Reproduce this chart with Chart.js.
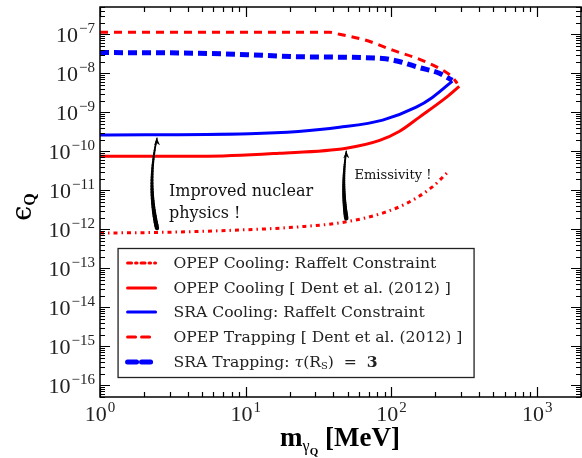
<!DOCTYPE html>
<html>
<head>
<meta charset="utf-8">
<script src="https://cdn.jsdelivr.net/npm/chart.js@4.4.0/dist/chart.umd.min.js"></script>
<style>
  html, body { margin: 0; padding: 0; background: #fff; }
</style>
</head>
<body>
<canvas id="chart" width="582" height="458"></canvas>
<script>
// Axis ranges and decade tick labels
const xMin = 1, xMax = 2000;
const yMin = 5e-17, yMax = 5e-7;
const xDecades = [0, 1, 2, 3];
const yDecades = [-16, -15, -14, -13, -12, -11, -10, -9, -8, -7];

// OPEP Cooling: Raffelt Constraint
const opepRaffeltM = [1, 2.5, 8, 23, 49, 87, 127, 190, 250];
const opepRaffeltEps = [8.0e-13, 8.3e-13, 9.4e-13, 1.15e-12, 1.55e-12, 2.6e-12, 4.6e-12, 1.2e-11, 3.2e-11];

// OPEP Cooling [ Dent et al. (2012) ]
const opepDentM = [1, 5, 17, 49, 83, 113, 155, 238, 292];
const opepDentEps = [7.4e-11, 7.4e-11, 8.9e-11, 1.2e-10, 1.9e-10, 3.2e-10, 7.4e-10, 2.4e-9, 4.6e-9];

// SRA Cooling: Raffelt Constraint
const sraRaffeltM = [1, 10.6, 23, 44, 87, 148, 191, 262];
const sraRaffeltEps = [2.6e-10, 2.8e-10, 3.2e-10, 4.1e-10, 6.3e-10, 1.35e-9, 2.4e-9, 6.3e-9];

// OPEP Trapping [ Dent et al. (2012) ]
const opepTrapM = [1, 37.6, 44, 67, 102, 155, 213, 262, 283];
const opepTrapEps = [1.13e-7, 1.13e-7, 1.0e-7, 7.0e-8, 3.9e-8, 2.3e-8, 1.34e-8, 7.9e-9, 5.5e-9];

// SRA Trapping: tau(Rs) = 3
const sraTrapM = [1, 4.8, 10.2, 23, 87, 113, 155, 213, 262];
const sraTrapEps = [3.4e-8, 3.26e-8, 3.0e-8, 2.65e-8, 2.4e-8, 2.0e-8, 1.4e-8, 1.0e-8, 6.6e-9];

// Annotation arrows (data coords): tail -> head
const arrows = [
  { m: 2.46, from: 1.07e-12, to: 2.15e-10, bend: -5 },
  { m: 49, from: 1.9e-12, to: 1.0e-10, bend: -2.5 }
];

const SERIF = '"Liberation Serif", "DejaVu Serif", serif';
const font = (size, style, fam) => `${style || ''} ${size}px ${fam || SERIF}`;
const DJ = '"DejaVu Serif", serif';

function pts(xs, ys) {
  return xs.map((x, i) => ({ x: x, y: ys[i] }));
}

const datasets = [
  { label: 'OPEP Cooling: Raffelt Constraint', data: pts(opepRaffeltM, opepRaffeltEps),
    borderColor: '#ff0000', borderWidth: 3, borderDash: [4, 4, 1.5, 4] },
  { label: 'OPEP Cooling [ Dent et al. (2012) ]', data: pts(opepDentM, opepDentEps),
    borderColor: '#ff0000', borderWidth: 3, borderDash: [] },
  { label: 'SRA Cooling: Raffelt Constraint', data: pts(sraRaffeltM, sraRaffeltEps),
    borderColor: '#0000ff', borderWidth: 3, borderDash: [] },
  { label: 'OPEP Trapping [ Dent et al. (2012) ]', data: pts(opepTrapM, opepTrapEps),
    borderColor: '#ff0000', borderWidth: 3, borderDash: [8, 6] },
  { label: 'SRA Trapping', data: pts(sraTrapM, sraTrapEps),
    borderColor: '#0000ff', borderWidth: 5, borderDash: [9, 5] }
];
datasets.forEach(d => {
  d.pointRadius = 0;
  d.fill = false;
  d.cubicInterpolationMode = 'monotone';
  d.borderCapStyle = 'butt';
});

// draws "10" with a superscript exponent
function drawPow(ctx, exp, x, y, align) {
  const sup = (exp < 0 ? '\u2212' : '') + Math.abs(exp);
  ctx.font = font(22);
  const wb = ctx.measureText('10').width;
  ctx.font = font(15);
  const ws = ctx.measureText(sup).width;
  const total = wb + 1 + ws;
  let x0 = x;
  if (align === 'right') x0 = x - total;
  if (align === 'center') x0 = x - total / 2;
  ctx.textAlign = 'left';
  ctx.textBaseline = 'alphabetic';
  ctx.font = font(22);
  ctx.fillText('10', x0, y);
  ctx.font = font(15);
  ctx.fillText(sup, x0 + wb + 1, y - 9);
}

function drawArrow(ctx, x, y0, y1, bend) {
  const cx = x + bend * 2, cy = (y0 + y1) / 2;
  const n = 30;
  ctx.strokeStyle = '#000';
  ctx.lineCap = 'round';
  let px = x, py = y0;
  for (let i = 1; i <= n; i++) {
    const t = i / n;
    const qx = (1 - t) * (1 - t) * x + 2 * (1 - t) * t * cx + t * t * x;
    const qy = (1 - t) * (1 - t) * y0 + 2 * (1 - t) * t * cy + t * t * y1;
    ctx.lineWidth = 4.5 - 3 * t;
    ctx.beginPath();
    ctx.moveTo(px, py);
    ctx.lineTo(qx, qy);
    ctx.stroke();
    px = qx; py = qy;
  }
  // arrow head
  ctx.fillStyle = '#000';
  ctx.beginPath();
  ctx.moveTo(x - 3, y1 + 7);
  ctx.lineTo(x, y1);
  ctx.lineTo(x + 3, y1 + 7);
  ctx.lineTo(x, y1 + 5);
  ctx.closePath();
  ctx.fill();
}

const decorPlugin = {
  id: 'decor',
  afterDatasetsDraw(chart) {
    const ctx = chart.ctx;
    const a = chart.chartArea;
    const xs = chart.scales.x, ys = chart.scales.y;
    ctx.save();

    // ticks pointing inwards on all four sides
    ctx.strokeStyle = '#000';
    ctx.lineWidth = 1.2;
    ctx.lineCap = 'butt';
    const majorLen = 10, minorLen = 5;
    for (let d = 0; d <= 3; d++) {
      for (let k = 1; k <= 9; k++) {
        const v = k * Math.pow(10, d);
        if (v < xMin || v > xMax) continue;
        const px = Math.round(xs.getPixelForValue(v)) + 0.5;
        const len = k === 1 ? majorLen : minorLen;
        ctx.beginPath();
        ctx.moveTo(px, a.bottom); ctx.lineTo(px, a.bottom - len);
        ctx.moveTo(px, a.top); ctx.lineTo(px, a.top + len);
        ctx.stroke();
      }
    }
    for (let d = -17; d <= -7; d++) {
      for (let k = 1; k <= 9; k++) {
        const v = k * Math.pow(10, d);
        if (v < yMin || v > yMax) continue;
        const py = Math.round(ys.getPixelForValue(v)) + 0.5;
        const len = k === 1 ? majorLen : minorLen;
        ctx.beginPath();
        ctx.moveTo(a.left, py); ctx.lineTo(a.left + len, py);
        ctx.moveTo(a.right, py); ctx.lineTo(a.right - len, py);
        ctx.stroke();
      }
    }

    // frame
    ctx.lineWidth = 1.5;
    ctx.strokeRect(a.left, a.top, a.right - a.left, a.bottom - a.top);

    // tick labels
    ctx.fillStyle = '#222';
    xDecades.forEach(d => {
      drawPow(ctx, d, xs.getPixelForValue(Math.pow(10, d)), a.bottom + 24, 'center');
    });
    yDecades.forEach(d => {
      drawPow(ctx, d, a.left - 5, ys.getPixelForValue(Math.pow(10, d)) + 8, 'right');
    });

    // axis titles
    ctx.fillStyle = '#000';
    ctx.textBaseline = 'alphabetic';
    ctx.textAlign = 'left';
    const xt = [
      { t: 'm', f: font(27, 'bold'), dy: 0 },
      { t: '\u03b3', f: font(16), dy: 5 },
      { t: 'Q', f: font(11, 'bold'), dy: 9 },
      { t: ' [MeV]', f: font(27, 'bold'), dy: 0 }
    ];
    let w = 0;
    xt.forEach(s => { ctx.font = s.f; s.w = ctx.measureText(s.t).width; w += s.w; });
    let cx = 340 - w / 2;
    xt.forEach(s => { ctx.font = s.f; ctx.fillText(s.t, cx, 446 + s.dy); cx += s.w; });

    ctx.save();
    ctx.translate(31, 207);
    ctx.rotate(-Math.PI / 2);
    ctx.font = font(27, '', DJ);
    const we = ctx.measureText('\u03f5').width;
    ctx.font = font(16, 'bold');
    const wq = ctx.measureText('Q').width;
    ctx.font = font(27, '', DJ);
    ctx.fillText('\u03f5', -(we + wq) / 2, 0);
    ctx.font = font(16, 'bold');
    ctx.fillText('Q', -(we + wq) / 2 + we, 4);
    ctx.restore();

    // annotations
    arrows.forEach(ar => {
      drawArrow(ctx, xs.getPixelForValue(ar.m), ys.getPixelForValue(ar.from), ys.getPixelForValue(ar.to), ar.bend);
    });
    ctx.fillStyle = '#111';
    ctx.textBaseline = 'alphabetic';
    ctx.font = font(16, '', DJ);
    ctx.fillText('Improved nuclear', xs.getPixelForValue(2.97), ys.getPixelForValue(7.0e-12));
    ctx.fillText('physics !', xs.getPixelForValue(2.97), ys.getPixelForValue(2.0e-12));
    ctx.font = font(13, '', DJ);
    ctx.fillText('Emissivity !', xs.getPixelForValue(55.8), ys.getPixelForValue(1.9e-11));

    // legend box
    const lx = xs.getPixelForValue(1.32), lw = 356;
    const ly = 248, lh = 129;
    ctx.fillStyle = '#fff';
    ctx.fillRect(lx, ly, lw, lh);
    ctx.strokeStyle = '#222';
    ctx.lineWidth = 1.3;
    ctx.strokeRect(lx + 0.5, ly + 0.5, lw, lh);
    const rows = [263, 288, 312, 337, 362];
    chart.data.datasets.forEach((ds, i) => {
      const y = rows[i];
      ctx.strokeStyle = ds.borderColor;
      ctx.lineWidth = ds.borderWidth;
      ctx.setLineDash(ds.borderDash);
      ctx.beginPath();
      ctx.moveTo(lx + 10, y);
      ctx.lineTo(lx + 38, y);
      ctx.stroke();
      ctx.setLineDash([]);
      ctx.fillStyle = '#222';
      ctx.textBaseline = 'middle';
      ctx.textAlign = 'left';
      let tx = lx + 56;
      if (i < 4) {
        ctx.font = font(15.6, '', DJ);
        ctx.fillText(ds.label, tx, y + 1);
      } else {
        const segs = [
          { t: 'SRA Trapping: ', f: font(15.6, '', DJ), dy: 0 },
          { t: '\u03c4', f: font(15.6, 'italic', DJ), dy: 0 },
          { t: '(R', f: font(15.6, '', DJ), dy: 0 },
          { t: 'S', f: font(10, '', DJ), dy: 3 },
          { t: ')  =  ', f: font(15.6, '', DJ), dy: 0 },
          { t: '3', f: font(15.6, 'bold', DJ), dy: 0 }
        ];
        segs.forEach(s => {
          ctx.font = s.f;
          ctx.fillText(s.t, tx, y + 1 + s.dy);
          tx += ctx.measureText(s.t).width;
        });
      }
    });
    ctx.restore();
  }
};

new Chart(document.getElementById('chart'), {
  type: 'line',
  data: { datasets: datasets },
  options: {
    responsive: false,
    animation: false,
    devicePixelRatio: 1,
    layout: { padding: { top: 7, right: 1, left: 0, bottom: 0 } },
    plugins: { legend: { display: false }, tooltip: { enabled: false } },
    scales: {
      x: {
        type: 'logarithmic', min: xMin, max: xMax,
        ticks: { display: false }, grid: { display: false }, border: { display: false },
        afterFit: s => { s.height = 61; }
      },
      y: {
        type: 'logarithmic', min: yMin, max: yMax,
        ticks: { display: false }, grid: { display: false }, border: { display: false },
        afterFit: s => { s.width = 100; }
      }
    }
  },
  plugins: [decorPlugin]
});
</script>
</body>
</html>
